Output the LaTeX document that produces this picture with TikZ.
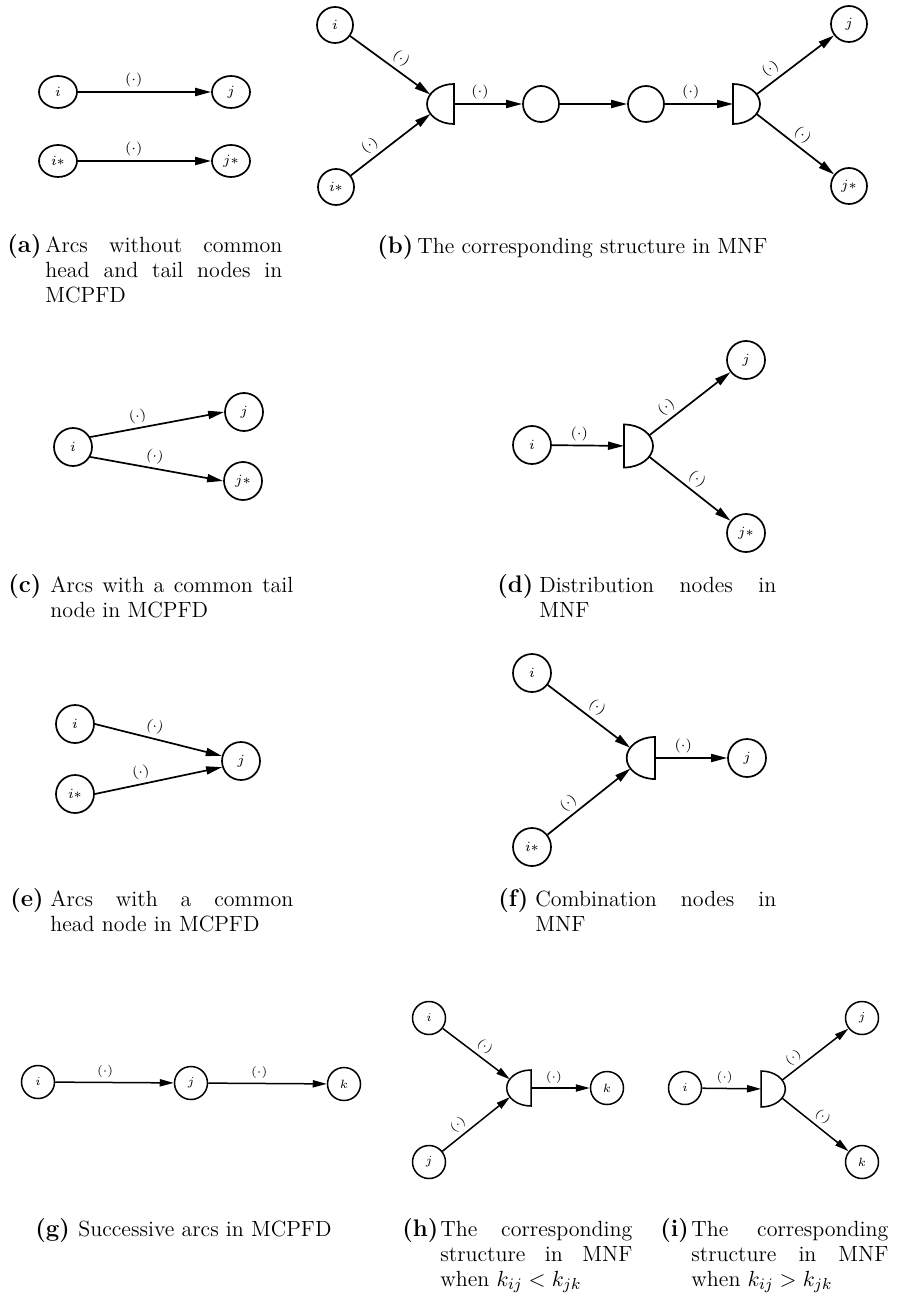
\documentclass[tikz,border=0pt]{standalone}
\usepackage{tikz}
\usetikzlibrary{arrows.meta,shapes.geometric}

\begin{document}
\begin{tikzpicture}[
  x=0.5pt, y=-0.5pt,
  nd/.style   ={draw,circle,line width=0.85pt,inner sep=0,minimum size=18pt,
                font=\fontsize{7}{8}\selectfont},
  ndo/.style  ={nd,ellipse,minimum width=19pt,minimum height=16pt},
  nds/.style  ={nd,minimum size=16.5pt,line width=0.75pt,font=\fontsize{6}{7}\selectfont},
  half/.style ={draw,semicircle,line width=0.85pt,inner sep=0,outer sep=0,
                minimum size=10pt,yscale=1.35,anchor=chord center},
  cmb/.style  ={rotate=90,half},
  dst/.style  ={rotate=-90,half},
  ln/.style   ={draw,-{Triangle[length=8pt,width=4pt]},line width=0.85pt},
  lns/.style  ={draw,-{Triangle[length=7pt,width=3.6pt]},line width=0.75pt},
  lb/.style   ={font=\fontsize{7}{8}\selectfont,inner sep=2pt,sloped,above},
  lbs/.style  ={lb,font=\fontsize{6}{7}\selectfont},
  cl/.style   ={font=\fontsize{12}{12}\selectfont\bfseries,inner sep=0,anchor=base west},
  ct/.style   ={font=\fontsize{11}{12.5}\selectfont,inner sep=0,anchor=base west,align=justify},
]
\useasboundingbox (0,0) rectangle (896,1294);

% ----------------------------------------------------------- (a) two separate arcs
\node[ndo] (ai)  at (58,92)   {$i$};
\node[ndo] (aj)  at (231,92)  {$j$};
\node[ndo] (ais) at (58,161)  {$i*$};
\node[ndo] (ajs) at (231,161) {$j*$};
\draw[ln,line width=1pt] (ai)  -- node[lb,pos=0.42] {$(\cdot)$} (aj);
\draw[ln,line width=1pt] (ais) -- node[lb,pos=0.42] {$(\cdot)$} (ajs);
\node[cl] (la) at (7,253) {(a)};
\node[ct,text width=118.5pt] (ta) at (45,253)
  {Arcs without common\linebreak head and tail nodes in\linebreak MCPFD};

% ----------------------------------------------------------- (b) the same in MNF
\node[nd]  (bi)  at (335,25)  {$i$};
\node[nd]  (bis) at (336,187) {$i*$};
\node[cmb] (bc)  at (454,104) {};
\node[nd]  (bu)  at (541,104) {};
\node[nd]  (bv)  at (646,104) {};
\node[dst] (bd)  at (733,104) {};
\node[nd]  (bj)  at (849,24)  {$j$};
\node[nd]  (bjs) at (849,186) {$j*$};
\draw[ln] (bi)  -- node[lb,pos=0.55] {$(\cdot)$} (bc);
\draw[ln] (bis) -- node[lb,pos=0.33] {$(\cdot)$} (bc);
\draw[ln] (bc)  -- node[lb,pos=0.38] {$(\cdot)$} (bu);
\draw[ln] (bu)  -- (bv);
\draw[ln] (bv)  -- node[lb,pos=0.38] {$(\cdot)$} (bd);
\draw[ln] (bd)  -- node[lb,pos=0.27] {$(\cdot)$} (bj);
\draw[ln] (bd)  -- node[lb,pos=0.5]  {$(\cdot)$} (bjs);
\node[cl] (lb) at (377,254) {(b)};
\node[ct] (tb) at (417,254) {The corresponding structure in MNF};

% ----------------------------------------------------------- (c) common tail
\node[nd,minimum size=19pt] (ci)  at (73,447)  {$i$};
\node[nd,minimum size=19pt] (cj)  at (244,412) {$j$};
\node[nd,minimum size=19pt] (cjs) at (243,481) {$j*$};
\draw[ln] (ci.30)  -- node[lb,pos=0.37] {$(\cdot)$} (cj.west);
\draw[ln] (ci.-30) -- node[lb,pos=0.47] {$(\cdot)$} (cjs.west);
\node[cl] (lc) at (8,592) {(c)};
\node[ct,text width=121.5pt] (tc) at (50,592)
  {Arcs with a common tail\linebreak node in MCPFD};

% ----------------------------------------------------------- (d) distribution node
\node[nd,minimum size=19pt] (di)  at (532,445) {$i$};
\node[dst,minimum size=10.75pt] (dd) at (624,446) {};
\node[nd,minimum size=19pt] (dj)  at (746,360) {$j$};
\node[nd,minimum size=19pt] (djs) at (746,533) {$j*$};
\draw[ln] (di) -- node[lb,pos=0.38] {$(\cdot)$} (dd);
\draw[ln] (dd) -- node[lb,pos=0.3]  {$(\cdot)$} (dj);
\draw[ln] (dd) -- node[lb,pos=0.5]  {$(\cdot)$} (djs);
\node[cl] (ld) at (497,592) {(d)};
\node[ct,text width=118.5pt] (td) at (539,592)
  {Distribution nodes in\linebreak MNF};

% ----------------------------------------------------------- (e) common head
\node[nd,minimum size=19pt] (ei)  at (75,724) {$i$};
\node[nd,minimum size=19pt] (eis) at (75,794) {$i*$};
\node[nd,minimum size=19pt] (ej)  at (241,761) {$j$};
\draw[ln] (ei.east)  -- node[lb,pos=0.45] {$(\cdot)$} (ej.165);
\draw[ln] (eis.east) -- node[lb,pos=0.38] {$(\cdot)$} (ej.198);
\node[cl] (le) at (10,906) {(e)};
\node[ct,text width=121.5pt] (te) at (50,906)
  {Arcs with a common\linebreak head node in MCPFD};

% ----------------------------------------------------------- (f) combination node
\node[nd,minimum size=19pt] (fi)  at (532,673) {$i$};
\node[nd,minimum size=19pt] (fis) at (532,847) {$i*$};
\node[cmb,minimum size=10.5pt] (fc) at (655,758) {};
\node[nd,minimum size=19pt] (fj)  at (747,758) {$j$};
\draw[ln] (fi)  -- node[lb,pos=0.51] {$(\cdot)$} (fc);
\draw[ln] (fis) -- node[lb,pos=0.34] {$(\cdot)$} (fc);
\draw[ln] (fc)  -- node[lb,pos=0.39] {$(\cdot)$} (fj);
\node[cl] (lf) at (498,906) {(f)};
\node[ct,text width=120.5pt] (tf) at (535,906)
  {Combination nodes in\linebreak MNF};

% ----------------------------------------------------------- (g) successive arcs
\node[nds] (gi) at (38,1082)  {$i$};
\node[nds] (gj) at (191,1083) {$j$};
\node[nds] (gk) at (344,1084) {$k$};
\draw[lns] (gi) -- node[lbs,pos=0.42] {$(\cdot)$} (gj);
\draw[lns] (gj) -- node[lbs,pos=0.43] {$(\cdot)$} (gk);
\node[cl] (lg) at (35,1236) {(g)};
\node[ct] (tg) at (78,1236) {Successive arcs in MCPFD};

% ----------------------------------------------------------- (h) k_ij < k_jk
\node[nds] (hi) at (429,1018) {$i$};
\node[nds] (hj) at (429,1162) {$j$};
\node[cmb,line width=0.75pt,minimum size=9pt] (hc) at (531,1088) {};
\node[nds] (hk) at (607,1088) {$k$};
\draw[lns] (hi) -- node[lbs,pos=0.53] {$(\cdot)$} (hc);
\draw[lns] (hj) -- node[lbs,pos=0.33] {$(\cdot)$} (hc);
\draw[lns] (hc) -- node[lbs,pos=0.39] {$(\cdot)$} (hk);
\node[cl] (lh) at (402,1236) {(h)};
\node[ct,text width=96pt] (th) at (440,1236)
  {The corresponding\linebreak structure in MNF\linebreak when $k_{ij}<k_{jk}$};

% ----------------------------------------------------------- (i) k_ij > k_jk
\node[nds] (ii) at (685,1088) {$i$};
\node[dst,line width=0.75pt,minimum size=9pt] (id) at (761,1089) {};
\node[nds] (ij) at (862,1018) {$j$};
\node[nds] (ik) at (862,1162) {$k$};
\draw[lns] (ii) -- node[lbs,pos=0.38] {$(\cdot)$} (id);
\draw[lns] (id) -- node[lbs,pos=0.27] {$(\cdot)$} (ij);
\draw[lns] (id) -- node[lbs,pos=0.51] {$(\cdot)$} (ik);
\node[cl] (li) at (660,1236) {(i)};
\node[ct,text width=98.5pt] (ti) at (691,1236)
  {The corresponding\linebreak structure in MNF\linebreak when $k_{ij}>k_{jk}$};

\end{tikzpicture}
\end{document}
